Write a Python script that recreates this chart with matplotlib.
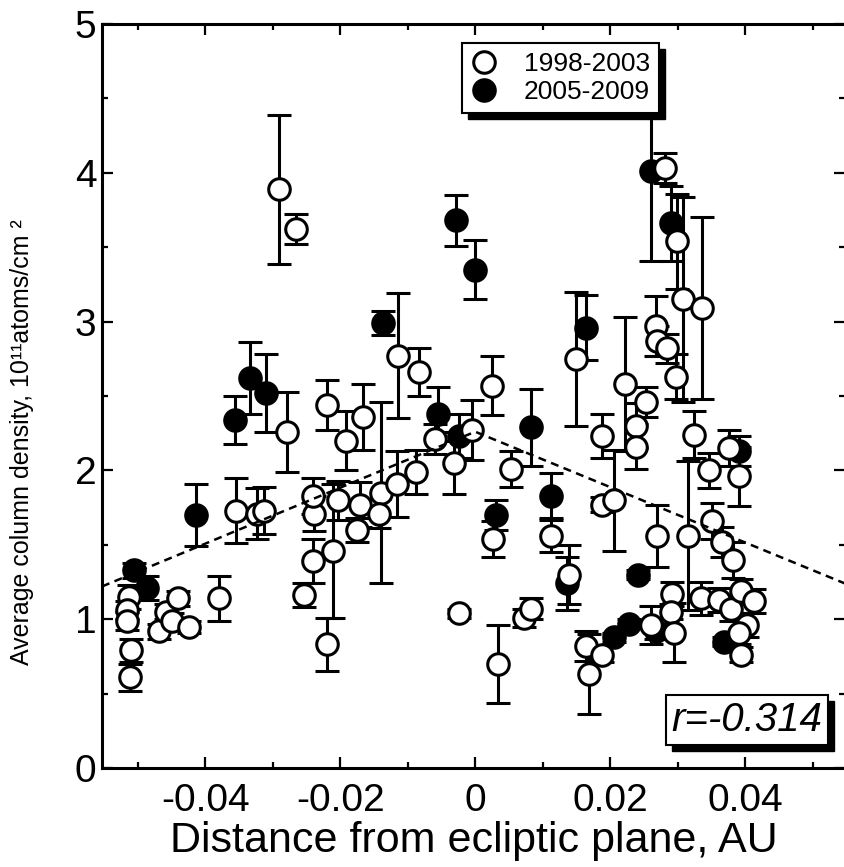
import matplotlib
matplotlib.use("Agg")
import matplotlib.pyplot as plt
from matplotlib.lines import Line2D
from matplotlib.patches import Rectangle
import numpy as np

plt.rcParams['font.family'] = ['Liberation Sans', 'DejaVu Sans']

# 1998-2003 (open circles)
open_x = [-0.0513, -0.0516, -0.0516, -0.0510, -0.0511, -0.0468, -0.0458, -0.0450, -0.0441, -0.0424,
          -0.0379, -0.0354, -0.0324, -0.0313, -0.0279, -0.0290, -0.0265, -0.0219, -0.0166, -0.0191,
          -0.0239, -0.0241, -0.0203, -0.0170, -0.0175, -0.0210, -0.0241, -0.0253, -0.0219, -0.0140,
          -0.0142, -0.0116, -0.0087, -0.0114, -0.0084, -0.0060, -0.0004, -0.0031, 0.0025, 0.0053,
          -0.0024, 0.0034, 0.0073, 0.0083, 0.0027, 0.0113, 0.0139, 0.0188, 0.0188, 0.0206,
          0.0239, 0.0239, 0.0253, 0.0222, 0.0150, 0.0268, 0.0270, 0.0284, 0.0298, 0.0281,
          0.0299, 0.0308, 0.0336, 0.0324, 0.0347, 0.0376, 0.0391, 0.0351, 0.0366, 0.0382,
          0.0270, 0.0316, 0.0164, 0.0169, 0.0188, 0.0260, 0.0292, 0.0290, 0.0295, 0.0335,
          0.0361, 0.0379, 0.0394, 0.0413, 0.0403, 0.0391, 0.0394]
open_y = [1.15, 1.06, 0.99, 0.79, 0.61, 0.92, 1.05, 0.99, 1.14, 0.95,
          1.14, 1.73, 1.71, 1.73, 2.26, 3.89, 3.62, 2.44, 2.36, 2.20,
          1.71, 1.83, 1.80, 1.77, 1.60, 1.46, 1.39, 1.16, 0.83, 1.85,
          1.71, 1.91, 1.99, 2.77, 2.66, 2.21, 2.27, 2.05, 2.57, 2.01,
          1.04, 0.70, 1.01, 1.07, 1.54, 1.56, 1.30, 2.23, 1.77, 1.80,
          2.30, 2.16, 2.46, 2.58, 2.75, 2.97, 2.87, 2.82, 2.63, 4.03,
          3.54, 3.15, 3.09, 2.24, 2.00, 2.15, 1.96, 1.66, 1.52, 1.40,
          1.56, 1.56, 0.82, 0.63, 0.76, 0.96, 1.17, 1.05, 0.91, 1.14,
          1.13, 1.07, 1.19, 1.12, 0.96, 0.91, 0.76]
open_err = [0.08, 0.06, 0.06, 0.08, 0.09, 0.05, 0.05, 0.05, 0.05, 0.04,
            0.15, 0.22, 0.17, 0.16, 0.27, 0.50, 0.10, 0.17, 0.22, 0.20,
            0.12, 0.12, 0.13, 0.15, 0.08, 0.45, 0.15, 0.08, 0.18, 0.61,
            0.10, 0.22, 0.15, 0.42, 0.16, 0.10, 0.20, 0.21, 0.20, 0.12,
            0.03, 0.26, 0.06, 0.07, 0.12, 0.11, 0.20, 0.15, 0.05, 0.34,
            0.15, 0.15, 0.10, 0.45, 0.45, 0.20, 0.10, 0.10, 0.15, 0.10,
            0.32, 0.69, 0.61, 0.16, 0.12, 0.12, 0.20, 0.12, 0.10, 0.12,
            0.21, 0.50, 0.10, 0.27, 0.05, 0.13, 0.08, 0.05, 0.20, 0.11,
            0.08, 0.08, 0.08, 0.08, 0.08, 0.08, 0.05]

# 2005-2009 (filled circles)
fill_x = [-0.0505, -0.0487, -0.0413, -0.0356, -0.0333, -0.0310, -0.0136, -0.0028, 0.0000, -0.0055,
          -0.0024, 0.0083, 0.0031, 0.0113, 0.0136, 0.0164, 0.0261, 0.0290, 0.0241, 0.0206,
          0.0228, 0.0268, 0.0369, 0.0391]
fill_y = [1.33, 1.21, 1.70, 2.34, 2.62, 2.52, 2.99, 3.68, 3.35, 2.38,
          2.23, 2.29, 1.70, 1.83, 1.24, 2.96, 4.01, 3.66, 1.30, 0.88,
          0.97, 0.92, 0.85, 2.13]
fill_err = [0.05, 0.08, 0.21, 0.16, 0.24, 0.26, 0.08, 0.17, 0.20, 0.18,
            0.15, 0.26, 0.10, 0.15, 0.18, 0.22, 0.60, 0.25, 0.03, 0.03,
            0.03, 0.05, 0.03, 0.10]

# dashed fit line
fit_x = [-0.0553, 0.0, 0.0548]
fit_y = [1.22, 2.26, 1.24]

x_ticks = [-0.04, -0.02, 0, 0.02, 0.04]
x_ticklabels = ['-0.04', '-0.02', '0', '0.02', '0.04']
y_ticks = [0, 1, 2, 3, 4, 5]
legend_labels = ['1998-2003', '2005-2009']

W, H = 844, 867
fig = plt.figure(figsize=(W / 100, H / 100), dpi=100)
ax = fig.add_axes([102 / W, 1 - 768 / H, (845 - 102) / W, (768 - 24) / H])

ms = 15.5
mew = 2.2
common = dict(fmt='o', ms=ms, mew=mew, mec='black', ecolor='black',
              elinewidth=2.2, capsize=8.5, capthick=2.2)
ax.errorbar(fill_x, fill_y, yerr=fill_err, mfc='black', zorder=3, **common)
ax.errorbar(open_x, open_y, yerr=open_err, mfc='white', zorder=4, **common)
ax.plot(fit_x, fit_y, color='black', lw=1.8, ls=(0, (3.2, 2.2)), zorder=5)

ax.set_xlim(-0.0553, 0.0548)
ax.set_ylim(0, 5)
ax.set_xticks(x_ticks)
ax.set_xticklabels(x_ticklabels)
ax.set_xticks(np.arange(-0.05, 0.051, 0.01), minor=True)
ax.set_yticks(y_ticks)
ax.set_yticks(np.arange(0.5, 5, 1.0), minor=True)

for s in ['left', 'bottom', 'top']:
    ax.spines[s].set_linewidth(2.2)
ax.spines['right'].set_visible(False)
ax.tick_params(which='both', direction='in', top=True, right=True, width=1.6, labelsize=28)
ax.tick_params(which='major', length=8)
ax.tick_params(which='minor', length=4.5)
ax.tick_params(axis='x', which='major', pad=11)
ax.tick_params(axis='y', which='major', pad=4)

ax.set_xlabel('Distance from ecliptic plane, AU', fontsize=31, labelpad=1)
fig.text(22 / W, 1 - 442 / H, 'Average column density, 10¹¹atoms/cm ²',
         rotation=90, ha='center', va='center', fontsize=18)

handles = [Line2D([], [], marker='o', ls='none', ms=ms, mew=mew, mec='black', mfc='white'),
           Line2D([], [], marker='o', ls='none', ms=ms, mew=mew, mec='black', mfc='black')]
leg = fig.legend(handles, legend_labels, loc='upper left',
                 bbox_to_anchor=(462 / W, 1 - 43 / H), bbox_transform=fig.transFigure,
                 borderaxespad=0, fontsize=19, fancybox=False, framealpha=1,
                 edgecolor='black', borderpad=0.35, handlelength=1.0,
                 handletextpad=1.0, labelspacing=0.15)
leg.get_frame().set_linewidth(1.5)
leg.set_zorder(10)

rt = fig.text(747 / W, 1 - 720 / H, 'r=-0.314', ha='center', va='center',
              fontsize=29, style='italic', zorder=10,
              bbox=dict(boxstyle='square,pad=0.15', fc='white', ec='black', lw=1.5))

fig.canvas.draw()
for bb in [leg.get_frame().get_window_extent(), rt.get_bbox_patch().get_window_extent()]:
    sh = Rectangle((bb.x0 + 6, bb.y0 - 6), bb.width, bb.height, transform=None,
                   fc='black', ec='black', zorder=9)
    fig.add_artist(sh)

fig.savefig('out.png', dpi=100)
